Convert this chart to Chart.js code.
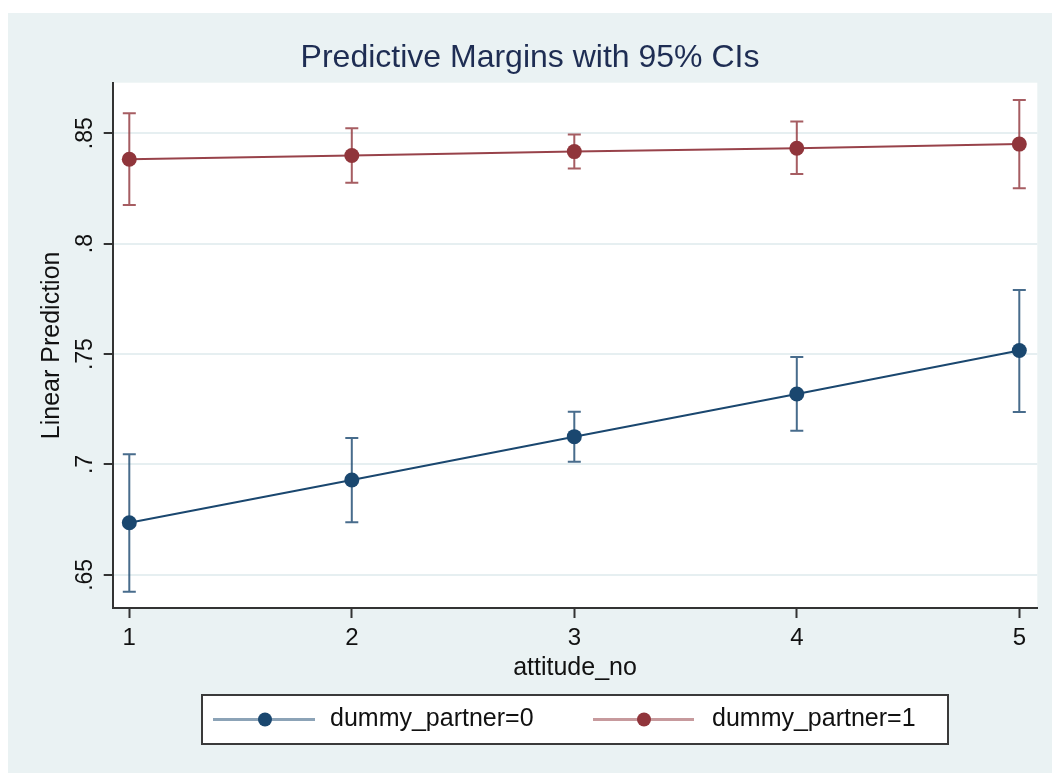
<!DOCTYPE html>
<html>
<head>
<meta charset="utf-8">
<script src="https://cdn.jsdelivr.net/npm/chart.js@4/dist/chart.umd.min.js"></script>
<style>
  html, body { margin: 0; padding: 0; background: #ffffff; }
  canvas { display: block; }
</style>
</head>
<body>
<canvas id="c" width="1052" height="773"></canvas>
<script>
// ---- data ----
const attitudeNo = [1, 2, 3, 4, 5];
const seriesNames = ['dummy_partner=0', 'dummy_partner=1'];
const partner0   = [0.6736, 0.6930, 0.7126, 0.7319, 0.7516];
const partner0Lo = [0.6424, 0.6738, 0.7012, 0.7153, 0.7238];
const partner0Hi = [0.7046, 0.7120, 0.7239, 0.7487, 0.7790];
const partner1   = [0.8382, 0.8399, 0.8417, 0.8432, 0.8451];
const partner1Lo = [0.8175, 0.8276, 0.8340, 0.8316, 0.8251];
const partner1Hi = [0.8591, 0.8523, 0.8494, 0.8553, 0.8651];
const xTicks = [1, 2, 3, 4, 5];
const yTicks = [0.65, 0.70, 0.75, 0.80, 0.85];
const yTickLabels = ['.65', '.7', '.75', '.8', '.85'];
const titleText = 'Predictive Margins with 95% CIs';
const xTitle = 'attitude_no';
const yTitle = 'Linear Prediction';

// ---- styles ----
const FONT = '"Liberation Sans", Arial, Helvetica, sans-serif';
const LINE_COLORS = ['#1a476f', '#98424a'];
const MARK_COLORS = ['#1a476f', '#90353b'];
const CI_COLORS = ['rgba(26,71,111,0.80)', 'rgba(144,53,59,0.80)'];
const LEG_LINE = ['rgba(26,71,111,0.50)', 'rgba(144,53,59,0.50)'];

const bgPlugin = {
  id: 'stataBg',
  beforeDraw(chart) {
    const { ctx, chartArea: a } = chart;
    ctx.save();
    ctx.fillStyle = '#ffffff';
    ctx.fillRect(0, 0, chart.width, chart.height);
    ctx.fillStyle = '#eaf2f3';
    ctx.fillRect(8, 13, chart.width - 8, chart.height - 13);
    ctx.fillStyle = '#ffffff';
    ctx.fillRect(a.left, a.top, a.right - a.left, a.bottom - a.top);
    ctx.restore();
  }
};

const ciPlugin = {
  id: 'ciBars',
  beforeDatasetsDraw(chart) {
    const { ctx, scales: { x, y } } = chart;
    const bands = [[partner0Lo, partner0Hi], [partner1Lo, partner1Hi]];
    ctx.save();
    ctx.lineWidth = 2;
    bands.forEach(([lo, hi], k) => {
      ctx.strokeStyle = CI_COLORS[k];
      attitudeNo.forEach((v, i) => {
        const px = x.getPixelForValue(v);
        const p1 = y.getPixelForValue(lo[i]);
        const p2 = y.getPixelForValue(hi[i]);
        ctx.beginPath();
        ctx.moveTo(px, p1); ctx.lineTo(px, p2);
        ctx.moveTo(px - 6.5, p1); ctx.lineTo(px + 6.5, p1);
        ctx.moveTo(px - 6.5, p2); ctx.lineTo(px + 6.5, p2);
        ctx.stroke();
      });
    });
    ctx.restore();
  }
};

const legendPlugin = {
  id: 'stataLegend',
  afterDraw(chart) {
    const { ctx, chartArea: a } = chart;
    const cx = (a.left + a.right) / 2;
    const bw = 746, bh = 49;
    const L = cx - bw / 2, T = 695;
    const cy = T + bh / 2;
    ctx.save();
    ctx.fillStyle = '#ffffff';
    ctx.fillRect(L, T, bw, bh);
    ctx.strokeStyle = '#3a3a3a';
    ctx.lineWidth = 2;
    ctx.strokeRect(L, T, bw, bh);
    const items = [
      { l0: 11, l1: 113, m: 63, t: 128 },
      { l0: 391, l1: 492, m: 442, t: 510 }
    ];
    items.forEach((it, k) => {
      ctx.strokeStyle = LEG_LINE[k];
      ctx.lineWidth = 3;
      ctx.beginPath();
      ctx.moveTo(L + it.l0, cy); ctx.lineTo(L + it.l1, cy);
      ctx.stroke();
      ctx.fillStyle = MARK_COLORS[k];
      ctx.beginPath();
      ctx.arc(L + it.m, cy, 7, 0, Math.PI * 2);
      ctx.fill();
      ctx.fillStyle = '#111111';
      ctx.font = '25px ' + FONT;
      ctx.textBaseline = 'middle';
      ctx.textAlign = 'left';
      ctx.fillText(chart.data.datasets[k].label, L + it.t, cy);
    });
    ctx.restore();
  }
};

const mk = (vals) => attitudeNo.map((v, i) => ({ x: v, y: vals[i] }));

new Chart(document.getElementById('c'), {
  type: 'line',
  data: {
    datasets: [
      {
        label: seriesNames[0], data: mk(partner0),
        borderColor: LINE_COLORS[0], borderWidth: 2,
        pointBackgroundColor: MARK_COLORS[0], pointBorderWidth: 0, pointRadius: 7.5,
        tension: 0, fill: false
      },
      {
        label: seriesNames[1], data: mk(partner1),
        borderColor: LINE_COLORS[1], borderWidth: 2,
        pointBackgroundColor: MARK_COLORS[1], pointBorderWidth: 0, pointRadius: 7.5,
        tension: 0, fill: false
      }
    ]
  },
  options: {
    responsive: false,
    animation: false,
    layout: { padding: { left: 22.7, right: 14.7, top: 0, bottom: 90 } },
    plugins: {
      legend: { display: false },
      tooltip: { enabled: false },
      title: {
        display: true, text: titleText, color: '#1e2d53',
        font: { family: FONT, size: 32, weight: 'normal' },
        padding: { top: 38.8, bottom: 5.5 }
      }
    },
    scales: {
      x: {
        type: 'linear', min: 0.9254, max: 5.0809,
        afterBuildTicks: (s) => { s.ticks = xTicks.map(v => ({ value: v })); },
        afterFit: (s) => { s.height = 75; },
        grid: { drawOnChartArea: false, drawTicks: true, tickLength: 10, tickColor: '#333333', tickWidth: 2 },
        border: { display: true, color: '#333333', width: 2 },
        ticks: {
          font: { family: FONT, size: 24 }, color: '#111111', padding: 6,
          autoSkip: false, minRotation: 0, maxRotation: 0,
          callback: (v, i) => String(xTicks[i])
        },
        title: {
          display: true, text: xTitle, color: '#111111',
          font: { family: FONT, size: 25 }, padding: { top: 0, bottom: 0 }
        }
      },
      y: {
        type: 'linear', min: 0.635, max: 0.8729,
        afterBuildTicks: (s) => { s.ticks = yTicks.map(v => ({ value: v })); },
        afterFit: (s) => { s.width = 90; },
        grid: { color: '#e6eff1', lineWidth: 2, drawTicks: true, tickLength: 9, tickColor: '#333333', tickWidth: 2 },
        border: { display: true, color: '#333333', width: 2 },
        ticks: {
          font: { family: FONT, size: 23 }, color: '#111111', padding: 2,
          minRotation: 90, maxRotation: 90, crossAlign: 'center',
          callback: (v, i) => yTickLabels[i]
        },
        title: {
          display: true, text: yTitle, color: '#111111',
          font: { family: FONT, size: 25 }, padding: { top: 14, bottom: 0 }
        }
      }
    }
  },
  plugins: [bgPlugin, ciPlugin, legendPlugin]
});
</script>
</body>
</html>
